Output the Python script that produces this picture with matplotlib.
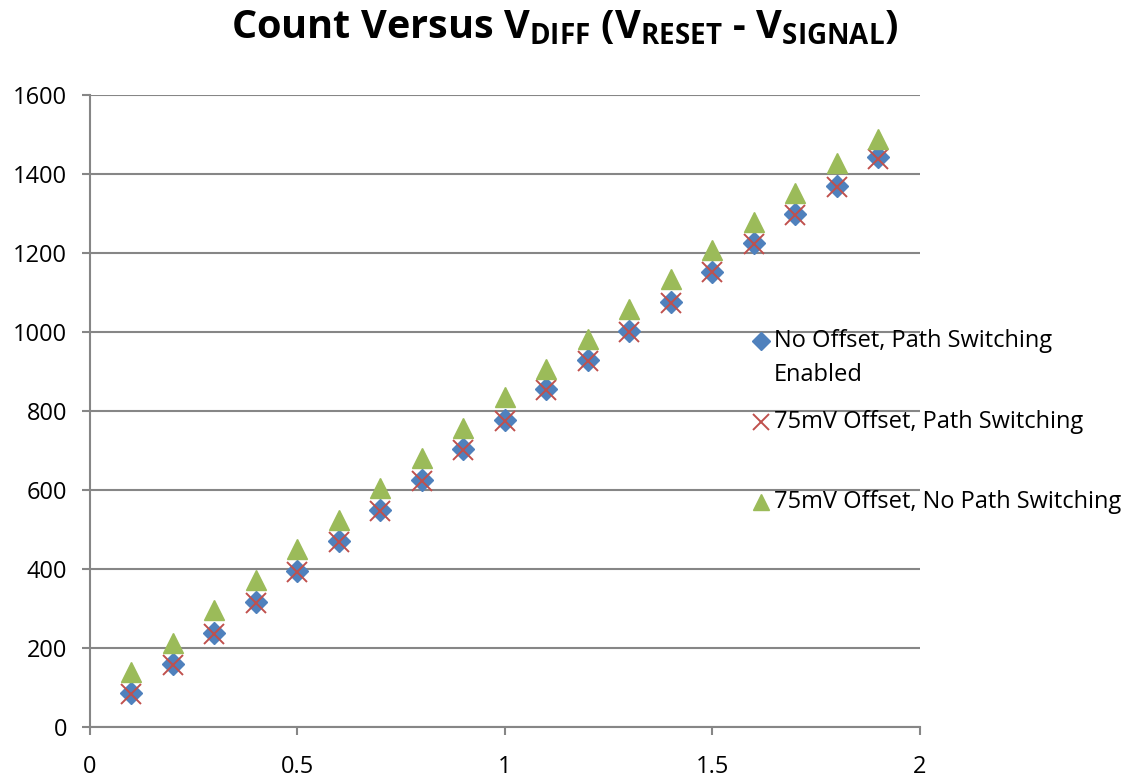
import matplotlib
matplotlib.use("Agg")
import matplotlib.pyplot as plt
from matplotlib.lines import Line2D

# V_DIFF values (V)
v_diff = [0.1, 0.2, 0.3, 0.4, 0.5, 0.6, 0.7, 0.8, 0.9, 1.0,
          1.1, 1.2, 1.3, 1.4, 1.5, 1.6, 1.7, 1.8, 1.9]

# counts
no_offset_ps = [86, 160, 238, 316, 394, 472, 549, 625, 704, 777,
                855, 929, 1003, 1076, 1153, 1226, 1298, 1370, 1444]
offset_ps = [83, 158, 235, 313, 392, 468, 547, 622, 700, 775,
             852, 927, 1001, 1074, 1151, 1224, 1296, 1367, 1439]
offset_no_ps = [138, 213, 295, 372, 450, 524, 605, 681, 757, 835,
                906, 982, 1058, 1134, 1208, 1278, 1353, 1427, 1488]

labels = ["No Offset, Path Switching\nEnabled",
          "75mV Offset, Path Switching",
          "75mV Offset, No Path Switching"]

FONT = "Open Sans"
plt.rcParams["font.family"] = [FONT, "DejaVu Sans"]
plt.rcParams["mathtext.fontset"] = "custom"
plt.rcParams["mathtext.rm"] = FONT
plt.rcParams["mathtext.bf"] = FONT + ":bold"

fig = plt.figure(figsize=(11.24, 7.79), dpi=100)
ax = fig.add_axes([0.080, 0.0668, 0.7385, 0.8112])

grid_col = "#868686"
ax.set_xlim(0, 2)
ax.set_ylim(0, 1600)
ax.set_xticks([0, 0.5, 1, 1.5, 2])
ax.set_xticklabels(["0", "0.5", "1", "1.5", "2"])
ax.set_yticks(range(0, 1601, 200))
ax.yaxis.grid(True, color=grid_col, linewidth=1.5)
ax.set_axisbelow(True)
for side in ["top", "right"]:
    ax.spines[side].set_visible(False)
for side in ["left", "bottom"]:
    ax.spines[side].set_color(grid_col)
    ax.spines[side].set_linewidth(1.5)
ax.tick_params(axis="both", colors=grid_col, length=5.5, width=1.5,
               labelsize=17, labelcolor="black")
ax.tick_params(axis="x", pad=15)
ax.tick_params(axis="y", pad=11)

styles = [
    dict(marker="D", color="#4F81BD", markersize=11.5, linestyle="none"),
    dict(marker="x", color="#C0504D", markersize=14.5, markeredgewidth=1.4, linestyle="none"),
    dict(marker="^", color="#9BBB59", markersize=15, linestyle="none"),
]
series = [no_offset_ps, offset_ps, offset_no_ps]
for ys, st in zip(series, styles):
    ax.plot(v_diff, ys, clip_on=False, **st)

# legend drawn by hand, Excel style
leg_y = [(779 - 341) / 779, (779 - 422) / 779, (779 - 502) / 779]
mk_x = 761 / 1124
txt_x = 774 / 1124
for lab, st, yy in zip(labels, styles, leg_y):
    s = dict(st)
    s["markersize"] = s["markersize"] * 0.78
    fig.add_artist(Line2D([mk_x], [yy], transform=fig.transFigure, **s))
    lines = lab.split("\n")
    for i, ln in enumerate(lines):
        fig.text(txt_x, yy - i * 34 / 779, ln, fontsize=17, va="center", ha="left")

fig.text(565 / 1124, (779 - 38) / 779,
         r"Count Versus V$_{\mathbf{DIFF}}$ (V$_{\mathbf{RESET}}$ - V$_{\mathbf{SIGNAL}}$)",
         fontsize=28.5, fontweight="bold", ha="center", va="baseline")

fig.savefig("out.png", dpi=100)
